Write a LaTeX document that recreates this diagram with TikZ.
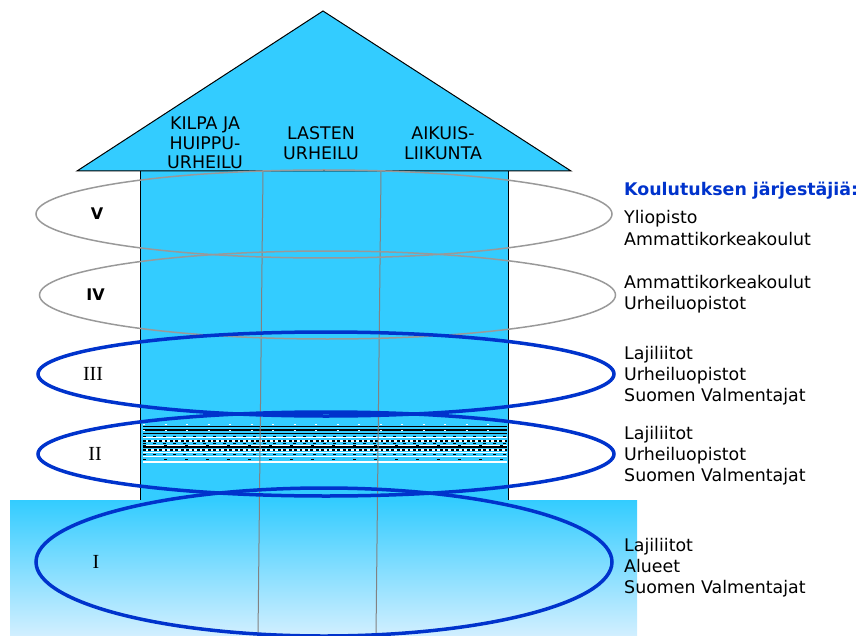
\documentclass[tikz,border=0pt]{standalone}
\usepackage{fontspec}
\setmainfont{DejaVu Sans}
\newfontfamily\romanfont{Liberation Serif}
\usetikzlibrary{shapes.geometric,calc,positioning}
\definecolor{housecyan}{RGB}{51,204,255}
\definecolor{basepale}{RGB}{210,239,255}
\definecolor{ringblue}{RGB}{0,51,204}
\definecolor{ringgray}{RGB}{153,153,153}
\definecolor{splitgray}{RGB}{130,130,130}

\begin{document}
\begin{tikzpicture}[x=1pt,y=-1pt]
        \tikzstyle{ring} = [shape=ellipse, inner sep=0pt, outer sep=0pt, minimum width=576pt]
        \tikzstyle{grayring} = [ring, draw=ringgray, line width=1.5pt, minimum height=88pt]
        \tikzstyle{bluering} = [ring, draw=ringblue, line width=3.5pt]
        \tikzstyle{roofText} = [align=center, inner sep=0pt, font=\fontsize{17.4}{19.5}\selectfont]
        \tikzstyle{orgText} = [align=left, anchor=base west, inner sep=0pt, font=\fontsize{17.4}{21}\selectfont]
        \tikzstyle{titleText} = [orgText, text=ringblue, font=\fontsize{17.4}{21}\selectfont\bfseries]
        \tikzstyle{sansNum} = [inner sep=0pt, font=\fontsize{16}{16}\selectfont\bfseries]
        \tikzstyle{serifNum} = [inner sep=0pt, font=\fontsize{20}{20}\selectfont\romanfont]
        \tikzstyle{split} = [draw=splitgray, line width=1pt]
        \tikzstyle{blackrule} = [black, line width=1.4pt]
        \tikzstyle{whiterule} = [white, line width=1pt]
        \tikzstyle{whitedots} = [white, line width=1pt, dash pattern=on 2pt off 19.5pt]
        \tikzstyle{checker} = [black, line width=2pt, dash pattern=on 2.7pt off 2.7pt]
        \tikzstyle{blackdash} = [black, line width=1pt, dash pattern=on 3pt off 7pt]
        \tikzstyle{sparsedash} = [black, line width=1pt, dash pattern=on 3pt off 18pt]
        \useasboundingbox (0,0) rectangle (861,636);

        \coordinate (apex) at (323,11);
        \coordinate (eaveL) at (77,171);
        \coordinate (eaveR) at (571,171);
        \coordinate (bandL) at (143,0);
        \coordinate (bandR) at (507,0);

        % house body and roof
        \draw [fill=housecyan, line width=1pt] (140,171) rectangle (508,500);
        \draw [fill=housecyan, line width=1pt, line join=miter] (eaveL) -- (apex) -- (eaveR) -- cycle;

        % striped band
        \foreach \yy in {426.5, 430, 433.3, 447} \draw [blackrule] (bandL |- 0,\yy) -- (bandR |- 0,\yy);
        \foreach \yy in {424.5, 430} \draw [whitedots] (bandL |- 0,\yy) -- (bandR |- 0,\yy);
        \foreach \yy in {437.7, 445, 452, 456.7, 461, 462.7} \draw [whiterule] (bandL |- 0,\yy) -- (bandR |- 0,\yy);
        \foreach \yy in {440.7, 450} \draw [white, line width=2pt] (bandL |- 0,\yy) -- (bandR |- 0,\yy);
        \foreach \yy in {440.7, 450} \draw [checker] (bandL |- 0,\yy) -- (bandR |- 0,\yy);
        \foreach \yy in {436, 443.3, 454} \draw [blackdash] (bandL |- 0,\yy) -- (bandR |- 0,\yy);
        \foreach \yy in {445, 459} \draw [sparsedash] (bandL |- 0,\yy) -- (bandR |- 0,\yy);

        % ground
        \shade [top color=housecyan, bottom color=basepale] (10,500) rectangle (637,636);

        % column splits
        \coordinate (splitAtop) at (263,171);
        \coordinate (splitAbot) at (258,636);
        \coordinate (splitBtop) at (381,171);
        \coordinate (splitBbot) at (376,636);
        \draw [split] (splitAtop) -- (splitAbot);
        \draw [split] (splitBtop) -- (splitBbot);

        % roof labels
        \node [roofText] (kilpa) at (205,143) {KILPA JA\\HUIPPU-\\URHEILU};
        \node [roofText] (lasten) at (321,143) {LASTEN\\URHEILU};
        \node [roofText] (aikuis) at (443,143) {AIKUIS-\\LIIKUNTA};

        % levels
        \node [grayring] (ringV) at (324,214) {};
        \node [grayring] (ringIV) at (327.5,295) {};
        \node [bluering, minimum height=84pt] (ringIII) at (326,374) {};
        \node [bluering, minimum height=84pt] (ringII) at (326,454) {};
        \node [bluering, minimum height=148pt] (ringI) at (324,562) {};

        \node [sansNum] (labV) at ($(ringV.west) + (61,0)$) {V};
        \node [sansNum] (labIV) at ($(ringIV.west) + (56,0)$) {IV};
        \node [serifNum] (labIII) at ($(ringIII.west) + (55,0)$) {III};
        \node [serifNum] (labII) at ($(ringII.west) + (57,0)$) {II};
        \node [serifNum] (labI) at ($(ringI.west) + (60,0)$) {I};

        % organizers (base = last line)
        \node [titleText] (organizers) at (624,196) {Koulutuksen järjestäjiä:};
        \node [orgText] (orgV) at (624,245) {Yliopisto\\Ammattikorkeakoulut};
        \node [orgText] (orgIV) at (624,309) {Ammattikorkeakoulut\\Urheiluopistot};
        \node [orgText] (orgIII) at (624,401.5) {Lajiliitot\\Urheiluopistot\\Suomen Valmentajat};
        \node [orgText] (orgII) at (624,481.5) {Lajiliitot\\Urheiluopistot\\Suomen Valmentajat};
        \node [orgText] (orgI) at (624,593.5) {Lajiliitot\\Alueet\\Suomen Valmentajat};
\end{tikzpicture}
\end{document}
